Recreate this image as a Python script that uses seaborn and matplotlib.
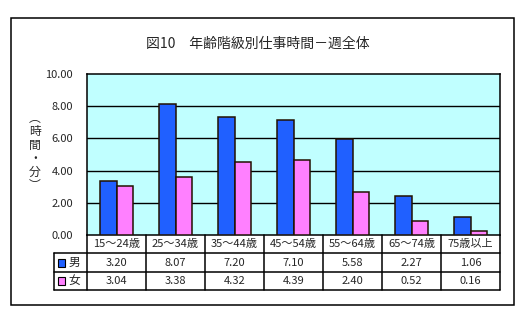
import matplotlib
matplotlib.use("Agg")
import matplotlib.pyplot as plt
import matplotlib.patches as mpatches
import seaborn as sns
import pandas as pd

categories = ["15～24歳", "25～34歳", "35～44歳", "45～54歳", "55～64歳", "65～74歳", "75歳以上"]
series_names = ["男", "女"]
male_hours = [3.33, 8.12, 7.33, 7.17, 5.97, 2.45, 1.10]
female_hours = [3.07, 3.63, 4.53, 4.65, 2.67, 0.87, 0.27]
male_labels = ["3.20", "8.07", "7.20", "7.10", "5.58", "2.27", "1.06"]
female_labels = ["3.04", "3.38", "4.32", "4.39", "2.40", "0.52", "0.16"]
yticks = [0, 2, 4, 6, 8, 10]

colors = ["#2060FF", "#FF80FF"]
FONT = ["Noto Sans CJK JP", "DejaVu Sans"]

sns.set_style("white")
plt.rcParams["font.family"] = FONT

W, H = 530, 325
fig = plt.figure(figsize=(W / 100, H / 100), dpi=100)

def fx(px):
    return px / W

def fy(py):
    return 1 - py / H

# outer frame
fig.patches.append(mpatches.Rectangle((fx(11), fy(305)), fx(514) - fx(11), fy(18) - fy(305),
                                      transform=fig.transFigure, fill=False, edgecolor="black",
                                      linewidth=1.1))

left, right, top, bottom = 87, 500, 74, 235
ax = fig.add_axes([fx(left), fy(bottom), fx(right) - fx(left), fy(top) - fy(bottom)])

df = pd.DataFrame({
    "cat": categories * 2,
    "series": [series_names[0]] * len(categories) + [series_names[1]] * len(categories),
    "value": male_hours + female_hours,
})
sns.barplot(data=df, x="cat", y="value", hue="series", palette=colors, ax=ax,
            width=0.56, gap=0, edgecolor="#221100", linewidth=1.1, legend=False,
            saturation=1, zorder=3)

ax.set_facecolor("#C0FFFF")
ax.set_ylim(0, 10)
ax.set_xlim(-0.5, len(categories) - 0.5)
ax.set_yticks(yticks)
ax.set_yticklabels([f"{v:.2f}" for v in yticks], fontsize=8)
ax.set_xticks([])
ax.set_xlabel("")
ax.set_ylabel("")
for y in yticks[1:-1]:
    ax.axhline(y, color="black", linewidth=1.0, zorder=1)
for s in ax.spines.values():
    s.set_color("black")
    s.set_linewidth(1.1)
ax.tick_params(axis="y", length=0, pad=10)

# title
fig.text(fx(258), fy(44), "図10　年齢階級別仕事時間－週全体", ha="center", va="center", fontsize=10)

# vertical y label
fig.text(fx(35), fy(152), "︵\n時\n間\n・\n分\n︶", ha="center", va="center", fontsize=8.5,
         linespacing=1.05)

# data table
tleft, tbottom = 54, 290
w_leg = (left - tleft) / ((right - left) / len(categories))
tax = fig.add_axes([fx(tleft), fy(tbottom), fx(right) - fx(tleft), fy(bottom) - fy(tbottom)])
tax.set_xlim(-0.5 - w_leg, len(categories) - 0.5)
tax.set_ylim(3, 0)
tax.axis("off")
n = len(categories)
lw = 1.1
for i in range(n + 1):
    tax.plot([i - 0.5, i - 0.5], [0, 3], color="black", lw=lw, clip_on=False)
tax.plot([-0.5 - w_leg] * 2, [1, 3], color="black", lw=lw, clip_on=False)
for r in [1, 2, 3]:
    tax.plot([-0.5 - w_leg, n - 0.5], [r, r], color="black", lw=lw, clip_on=False)
for i, c in enumerate(categories):
    tax.text(i, 0.5, c, ha="center", va="center", fontsize=8)
    tax.text(i, 1.5, male_labels[i], ha="center", va="center", fontsize=8)
    tax.text(i, 2.5, female_labels[i], ha="center", va="center", fontsize=8)
for r, (name, col) in enumerate(zip(series_names, colors)):
    xs = -0.5 - w_leg + 0.07
    tax.add_patch(mpatches.Rectangle((xs, 1.3 + r), 0.12, 0.42, facecolor=col,
                                     edgecolor="black", linewidth=0.8, clip_on=False))
    tax.text(xs + 0.17, 1.5 + r, name, ha="left", va="center", fontsize=8.5)

fig.savefig("out.png", dpi=100)
